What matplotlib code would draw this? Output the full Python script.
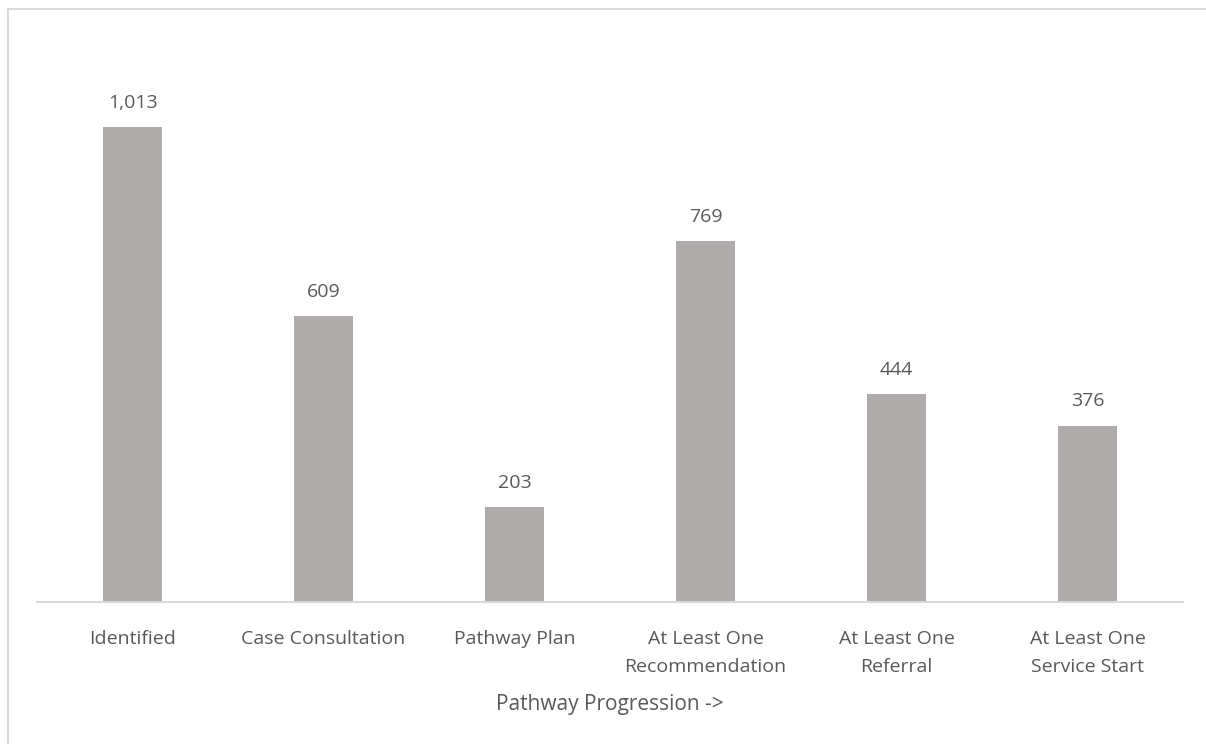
import matplotlib.pyplot as plt
from matplotlib.patches import Rectangle

# data
categories = ["Identified", "Case Consultation", "Pathway Plan",
              "At Least One\nRecommendation", "At Least One\nReferral",
              "At Least One\nService Start"]
counts = [1013, 609, 203, 769, 444, 376]

plt.rcParams["font.family"] = ["Open Sans", "DejaVu Sans"]
text_col = "#595959"

fig = plt.figure(figsize=(12.06, 7.44), dpi=100)
ax = fig.add_axes([0.0307, 0.1909, 0.9503, 0.7561])

# light frame around the chart area (like an Excel chart border)
fig.patches.append(Rectangle((8 / 1206, -0.05), 1.2, 1 - 9 / 744 + 0.05,
                             transform=fig.transFigure, fill=False,
                             edgecolor="#D9D9D9", linewidth=1.5))

x = range(len(categories))
bars = ax.bar(x, counts, width=0.31, color="#AFABAB")
for b, v in zip(bars, counts):
    ax.annotate(f"{v:,}", (b.get_x() + b.get_width() / 2, v),
                xytext=(0, 11), textcoords="offset points",
                ha="center", va="bottom", fontsize=14, color=text_col)

ax.set_xlim(-0.5, len(categories) - 0.5)
ax.set_ylim(0, 1200)
ax.set_xticks(list(x))
ax.set_xticklabels(categories, fontsize=14, color=text_col, linespacing=1.75)
ax.tick_params(axis="x", length=0, pad=20)
ax.set_yticks([])
for s in ["top", "right", "left"]:
    ax.spines[s].set_visible(False)
ax.spines["bottom"].set_color("#D9D9D9")
ax.spines["bottom"].set_linewidth(1.5)
ax.set_xlabel("Pathway Progression ->", fontsize=15, color=text_col, labelpad=13)

fig.savefig("out.png", dpi=100)
